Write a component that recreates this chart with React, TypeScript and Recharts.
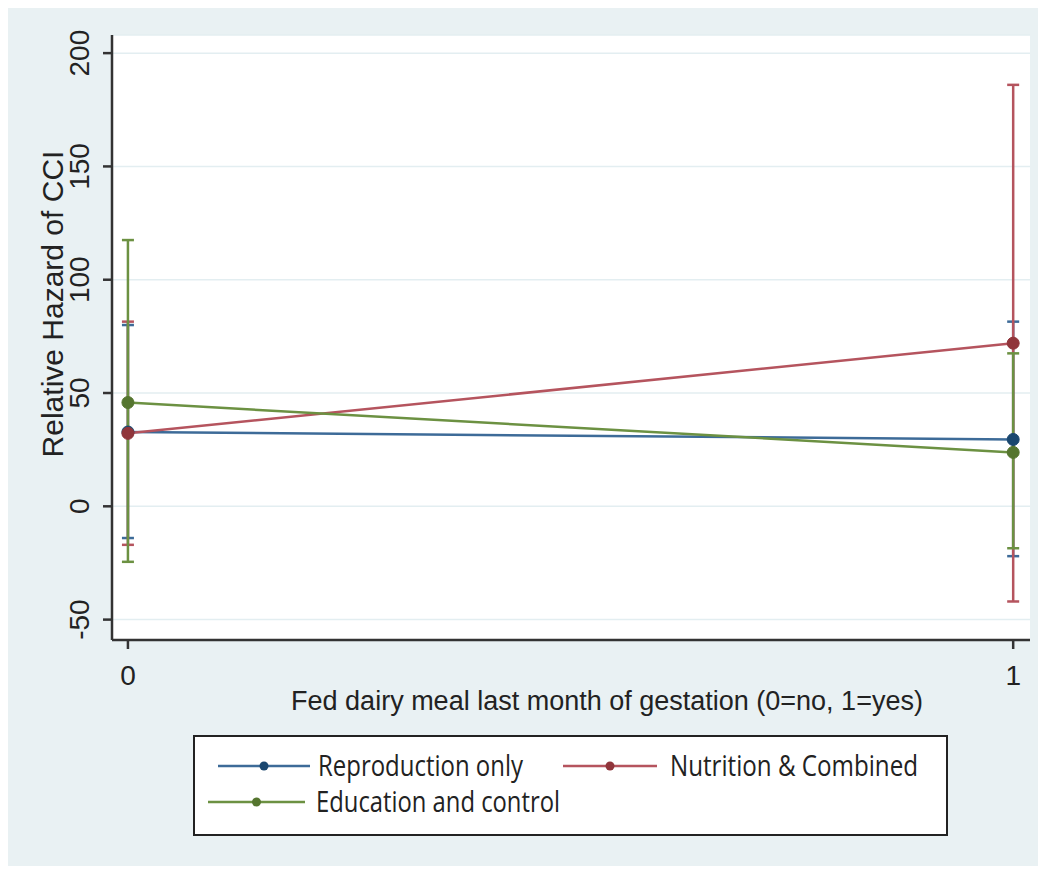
import React from 'react';
import { ComposedChart, Line, XAxis, YAxis, CartesianGrid, ErrorBar, Label } from 'recharts';

const xValues = [0, 1];
const reproduction = [32.8, 29.5];
const reproductionLow = [-14, -22];
const reproductionHigh = [80, 81.5];
const nutrition = [32.2, 72];
const nutritionLow = [-17, -42];
const nutritionHigh = [81.5, 186];
const education = [45.8, 23.8];
const educationLow = [-24.5, -18.5];
const educationHigh = [117.5, 67.5];
const yTicks = [-50, 0, 50, 100, 150, 200];

const data = xValues.map((x, i) => ({
  x,
  repro: reproduction[i],
  reproErr: [reproduction[i] - reproductionLow[i], reproductionHigh[i] - reproduction[i]],
  nutr: nutrition[i],
  nutrErr: [nutrition[i] - nutritionLow[i], nutritionHigh[i] - nutrition[i]],
  edu: education[i],
  eduErr: [education[i] - educationLow[i], educationHigh[i] - education[i]],
}));

const series = [
  { key: 'repro', err: 'reproErr', name: 'Reproduction only', line: '#3d6b98', dot: '#1a476f' },
  { key: 'nutr', err: 'nutrErr', name: 'Nutrition & Combined', line: '#b5545e', dot: '#90353b' },
  { key: 'edu', err: 'eduErr', name: 'Education and control', line: '#6c9142', dot: '#55752f' },
];

const axisFont = '"Liberation Sans", Arial, sans-serif';
const ink = '#222';
const squeeze = 0.75;

const YTick = (props: any) => {
  const { y, payload } = props;
  return (
    <text transform={`translate(81, ${y}) rotate(-90)`} textAnchor="middle" fontSize={28} fontFamily={axisFont} fill={ink}>
      {payload.value}
    </text>
  );
};

const XTick = (props: any) => {
  const { x, payload } = props;
  return (
    <text x={x} y={677} textAnchor="middle" fontSize={28} fontFamily={axisFont} fill={ink}>
      {payload.value}
    </text>
  );
};

// legend layout, relative to the legend box
const legendItems = [
  { s: series[0], lineX: 25, lineW: 92, textX: 125, textW: 205, y: 31 },
  { s: series[1], lineX: 370, lineW: 94, textX: 477, textW: 248, y: 31 },
  { s: series[2], lineX: 15, lineW: 97, textX: 123, textW: 244, y: 67 },
];

export default function App() {
  return (
    <div style={{ position: 'relative', width: 1038, height: 858, background: '#e9f1f3' }}>
      <ComposedChart width={1038} height={858} data={data} margin={{ top: 27, right: 16, bottom: 166, left: 0 }}>
        <CartesianGrid vertical={false} fill="#ffffff" stroke="#e3eef1" strokeWidth={1.5} />
        <XAxis
          dataKey="x"
          type="number"
          domain={[-0.018, 1.019]}
          ticks={xValues}
          height={60}
          tick={<XTick />}
          tickSize={9}
          axisLine={{ stroke: '#333', strokeWidth: 2.5 }}
          tickLine={{ stroke: '#333', strokeWidth: 2.5 }}
        >
          <Label
            content={() => (
              <text x={599} y={702} textAnchor="middle" fontSize={27} fontFamily={axisFont} fill={ink}>
                Fed dairy meal last month of gestation (0=no, 1=yes)
              </text>
            )}
          />
        </XAxis>
        <YAxis
          type="number"
          domain={[-59, 208]}
          ticks={yTicks}
          allowDataOverflow
          width={104}
          tick={<YTick />}
          tickSize={9}
          axisLine={{ stroke: '#333', strokeWidth: 2.5 }}
          tickLine={{ stroke: '#333', strokeWidth: 2.5 }}
        >
          <Label
            content={() => (
              <text transform="translate(55, 296) rotate(-90)" textAnchor="middle" fontSize={30} fontFamily={axisFont} fill={ink}>
                Relative Hazard of CCI
              </text>
            )}
          />
        </YAxis>
        {series.map((s) => (
          <Line
            key={s.key}
            dataKey={s.key}
            name={s.name}
            stroke={s.line}
            strokeWidth={2.5}
            dot={{ r: 6, fill: s.dot, stroke: s.dot, strokeWidth: 1 }}
            activeDot={false}
            isAnimationActive={false}
          >
            <ErrorBar dataKey={s.err} direction="y" width={6} stroke={s.line} strokeWidth={2.5} />
          </Line>
        ))}
      </ComposedChart>
      <svg style={{ position: 'absolute', left: 185, top: 727 }} width={755} height={101}>
        <rect x={1} y={1} width={753} height={99} fill="#fff" stroke="#222" strokeWidth={2} />
        {legendItems.map((it) => (
          <g key={it.s.key}>
            <line x1={it.lineX} y1={it.y} x2={it.lineX + it.lineW} y2={it.y} stroke={it.s.line} strokeWidth={2.5} />
            <circle cx={it.lineX + it.lineW / 2} cy={it.y} r={4.5} fill={it.s.dot} />
            <text
              transform={`translate(${it.textX}, ${it.y + 10}) scale(${squeeze}, 1)`}
              fontSize={29}
              fontFamily='"Open Sans", sans-serif'
              fill={ink}
              textLength={it.textW / squeeze}
              lengthAdjust="spacingAndGlyphs"
            >
              {it.s.name}
            </text>
          </g>
        ))}
      </svg>
    </div>
  );
}
